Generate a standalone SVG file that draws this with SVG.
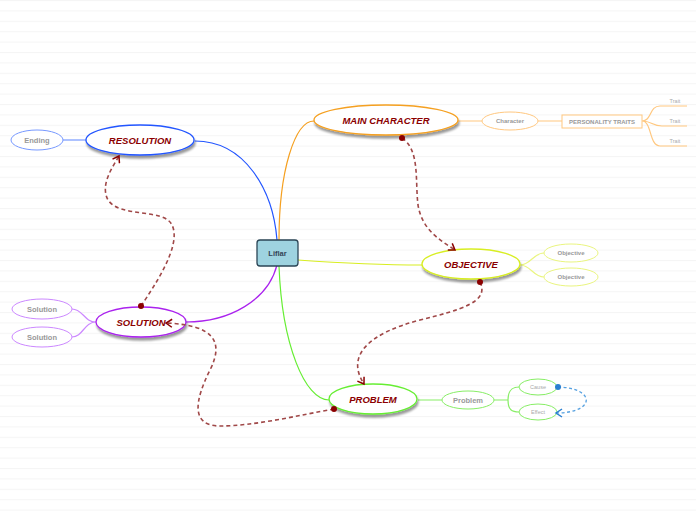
<svg xmlns="http://www.w3.org/2000/svg" width="696" height="520" viewBox="0 0 696 520">
<style>
.main{fill:#fff;stroke-width:1.3;filter:url(#sh)}
.mt{font-family:"Liberation Sans",Arial,sans-serif;font-weight:bold;font-style:italic;font-size:9.5px;fill:#8b0000;text-anchor:middle}
.sub{fill:#fff;stroke-width:1}
.st{font-family:"Liberation Sans",Arial,sans-serif;font-weight:bold;font-size:7.5px;fill:#999;text-anchor:middle}
.sst{font-family:"Liberation Sans",Arial,sans-serif;font-weight:bold;font-size:6px;fill:#999;text-anchor:middle}
.tt{font-family:"Liberation Sans",Arial,sans-serif;font-size:5.5px;fill:#aaa;text-anchor:middle}
.ln{fill:none;stroke-width:1.2}
.rel{fill:none;stroke:#a04848;stroke-width:1.6;stroke-dasharray:4,3;marker-start:url(#dot);marker-end:url(#arr)}
</style>
<defs>
<pattern id="bg" width="696" height="10.4" patternUnits="userSpaceOnUse">
<rect width="696" height="10.4" fill="#fff"/>
<rect y="0" width="696" height="1" fill="#f5f5f5"/>
</pattern>
<filter id="sh" x="-20%" y="-30%" width="140%" height="170%">
<feGaussianBlur in="SourceAlpha" stdDeviation="1.2"/>
<feOffset dx="1" dy="2.5" result="b"/>
<feComponentTransfer><feFuncA type="linear" slope="0.4"/></feComponentTransfer>
<feMerge><feMergeNode/><feMergeNode in="SourceGraphic"/></feMerge>
</filter>
<marker id="dot" markerWidth="8" markerHeight="8" refX="4" refY="4" markerUnits="userSpaceOnUse">
<circle cx="4" cy="4" r="3" fill="#8b0000"/>
</marker>
<marker id="arr" markerWidth="10" markerHeight="10" refX="8" refY="5" orient="auto" markerUnits="userSpaceOnUse">
<path d="M2,1 L8,5 L2,9" fill="none" stroke="#8b0000" stroke-width="1.5"/>
</marker>
<marker id="arrb" markerWidth="10" markerHeight="10" refX="8" refY="5" orient="auto" markerUnits="userSpaceOnUse">
<path d="M2,1 L8,5 L2,9" fill="none" stroke="#2a7fd0" stroke-width="1.5"/>
</marker>
<marker id="dotb" markerWidth="8" markerHeight="8" refX="4" refY="4" markerUnits="userSpaceOnUse">
<circle cx="4" cy="4" r="3" fill="#2a7fd0"/>
</marker>
</defs>
<rect width="696" height="520" fill="url(#bg)"/>

<g id="connectors">
<path class="ln" stroke="#2255ff" d="M277,240 C273,190 245,141 195,141"/>
<path class="ln" stroke="#f5a020" d="M279,240 C279,170 295,121 314,121"/>
<path class="ln" stroke="#d8ee22" d="M298,260 C340,263 380,265 422,265"/>
<path class="ln" stroke="#aa22ee" d="M277,265 C268,300 230,322 186,322"/>
<path class="ln" stroke="#66ee33" d="M279,266 C282,345 305,400 329,400"/>
<path class="ln" stroke="#7799ff" stroke-width="1" d="M63,140 L86,140"/>
<path class="ln" stroke="#ffc880" stroke-width="1" d="M458,121 L482,121 M538,121 L562,121"/>
<path class="ln" stroke="#ffc880" stroke-width="1" d="M642,121 C652,121 649,106 660,106 L687,106 M642,121 C652,121 652,126 662,126 L687,126 M642,121 C652,121 649,146 660,146 L687,146"/>
<path class="ln" stroke="#eaf580" stroke-width="1" d="M520,265 C531,265 533,253 544,253 M520,265 C531,265 533,277 544,277"/>
<path class="ln" stroke="#cc88ff" stroke-width="1" d="M96,322 C84,322 83,309 72,309 M96,322 C84,322 83,337 72,337"/>
<path class="ln" stroke="#88ee66" stroke-width="1" d="M418,400 L442,400 M494,400 L508,400 M508,400 C508,390 512,387 519,387 M508,400 C508,410 512,412 519,412"/>
</g>

<g id="center">
<rect x="257" y="240" width="41" height="26" rx="3" fill="#9ed3e0" stroke="#2b4656" stroke-width="1.3"/>
<text x="277.5" y="256" font-family="Liberation Sans,Arial,sans-serif" font-weight="bold" font-size="7.5" fill="#334455" text-anchor="middle">Liflar</text>
</g>

<g id="resolution">
<ellipse class="main" cx="140" cy="140" rx="54" ry="15" stroke="#2255ff"/>
<text class="mt" x="140" y="143.5">RESOLUTION</text>
</g>
<g id="main-character">
<ellipse class="main" cx="386" cy="120" rx="72" ry="15" stroke="#f5a020"/>
<text class="mt" x="386" y="123.5">MAIN CHARACTER</text>
</g>
<g id="objective">
<ellipse class="main" cx="471" cy="264" rx="49" ry="15" stroke="#d8ee22"/>
<text class="mt" x="471" y="267.5">OBJECTIVE</text>
</g>
<g id="solution">
<ellipse class="main" cx="141" cy="322" rx="45" ry="15" stroke="#aa22ee"/>
<text class="mt" x="141" y="325.5">SOLUTION</text>
</g>
<g id="problem">
<ellipse class="main" cx="373" cy="399" rx="44" ry="15" stroke="#66ee33"/>
<text class="mt" x="373" y="402.5">PROBLEM</text>
</g>

<g id="ending">
<ellipse class="sub" cx="37" cy="140" rx="26" ry="10" stroke="#7799ff"/>
<text class="st" x="37" y="142.8">Ending</text>
</g>
<g id="character">
<ellipse class="sub" cx="510" cy="121" rx="28" ry="9" stroke="#ffc880"/>
<text class="sst" x="510" y="123.3">Character</text>
</g>
<g id="personality-traits">
<rect x="562" y="115" width="80" height="13" fill="#fff" stroke="#ffc880" stroke-width="1"/>
<text class="sst" x="602" y="123.8">PERSONALITY TRAITS</text>
</g>
<g id="trait1"><text class="tt" x="675" y="102.5">Trait</text></g>
<g id="trait2"><text class="tt" x="675" y="122.5">Trait</text></g>
<g id="trait3"><text class="tt" x="675" y="142.5">Trait</text></g>
<g id="objective1">
<ellipse class="sub" cx="571" cy="253" rx="27" ry="9" stroke="#eaf580"/>
<text class="sst" x="571" y="255.3">Objective</text>
</g>
<g id="objective2">
<ellipse class="sub" cx="571" cy="277" rx="27" ry="9" stroke="#eaf580"/>
<text class="sst" x="571" y="279.3">Objective</text>
</g>
<g id="solution1">
<ellipse class="sub" cx="42" cy="309" rx="30" ry="10" stroke="#cc88ff"/>
<text class="st" x="42" y="311.8">Solution</text>
</g>
<g id="solution2">
<ellipse class="sub" cx="42" cy="337" rx="30" ry="10" stroke="#cc88ff"/>
<text class="st" x="42" y="339.8">Solution</text>
</g>
<g id="problem-sub">
<ellipse class="sub" cx="468" cy="400" rx="26" ry="9" stroke="#88ee66"/>
<text class="st" x="468" y="402.6" font-size="7">Problem</text>
</g>
<g id="cause">
<ellipse class="sub" cx="538" cy="387" rx="19" ry="8" stroke="#88ee66"/>
<text class="tt" x="538" y="389">Cause</text>
</g>
<g id="effect">
<ellipse class="sub" cx="538" cy="412" rx="19" ry="8" stroke="#88ee66"/>
<text class="tt" x="538" y="414">Effect</text>
</g>

<g id="relations">
<path fill="none" stroke="#55a0e0" stroke-width="1.3" stroke-dasharray="3,2.5" marker-start="url(#dotb)" marker-end="url(#arrb)" d="M558,387 C596,388 596,413 556,413"/>
<path class="rel" d="M141,306 C155,285 182,245 172,225 C164,208 120,218 108,200 C100,185 112,168 119,156"/>
<path class="rel" d="M402,138 C420,150 415,180 418,205 C422,230 440,240 455,250"/>
<path class="rel" d="M480,282 C490,302 460,310 420,320 C370,333 345,355 364,384"/>
<path class="rel" d="M334,409 C300,415 255,426 220,426 C190,426 195,400 210,370 C225,340 212,325 166,323"/>
</g>
</svg>
